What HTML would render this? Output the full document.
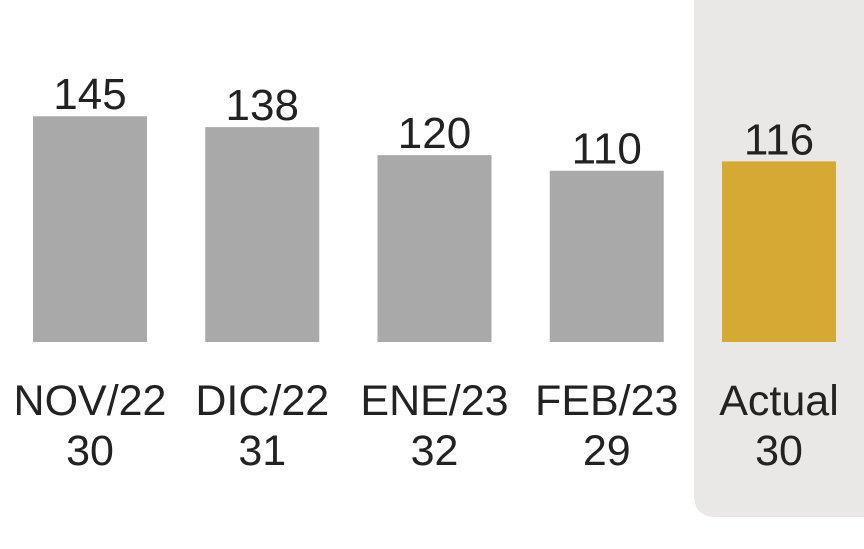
<!DOCTYPE html>
<html><head><meta charset="utf-8"><style>
html,body{margin:0;padding:0;background:#fff;width:864px;height:549px;overflow:hidden}
svg{display:block}
text{font-family:"Liberation Sans",sans-serif;fill:#222;text-anchor:middle}
</style></head><body>
<svg id="chart" width="864" height="549">
<path d="M694 0 H864 V517 H716 Q694 517 694 495 Z" fill="#e9e8e6"/>
<g id="bars"></g>
</svg>
<script>
const categories = ["NOV/22","DIC/22","ENE/23","FEB/23","Actual"];
const counts = ["30","31","32","29","30"];
const values = [145,138,120,110,116];
const highlight = [false,false,false,false,true];

const baseY = 342, pxPerUnit = 1.557;
const y = v => baseY - v * pxPerUnit;
const xCenter = i => 90 + i * 172.25;
const barW = 114;
const ns = "http://www.w3.org/2000/svg";
const g = document.getElementById("bars");
values.forEach((v,i)=>{
  const r = document.createElementNS(ns,"rect");
  r.setAttribute("x", xCenter(i)-barW/2);
  r.setAttribute("y", y(v));
  r.setAttribute("width", barW);
  r.setAttribute("height", baseY - y(v));
  r.setAttribute("fill", highlight[i] ? "#d4aa35" : "#a9a9a9");
  
  
  g.appendChild(r);
  const t = document.createElementNS(ns,"text");
  t.setAttribute("x", xCenter(i));
  t.setAttribute("y", y(v) - 7);
  t.setAttribute("font-size", "44");
  t.textContent = v;
  
  
  g.appendChild(t);
  const c = document.createElementNS(ns,"text");
  c.setAttribute("x", xCenter(i));
  c.setAttribute("y", 415);
  c.setAttribute("font-size", "43");
  c.textContent = categories[i];
  
  
  g.appendChild(c);
  const n = document.createElementNS(ns,"text");
  n.setAttribute("x", xCenter(i));
  n.setAttribute("y", 465);
  n.setAttribute("font-size", "43");
  n.textContent = counts[i];
  
  
  g.appendChild(n);
});
</script>
</body></html>
